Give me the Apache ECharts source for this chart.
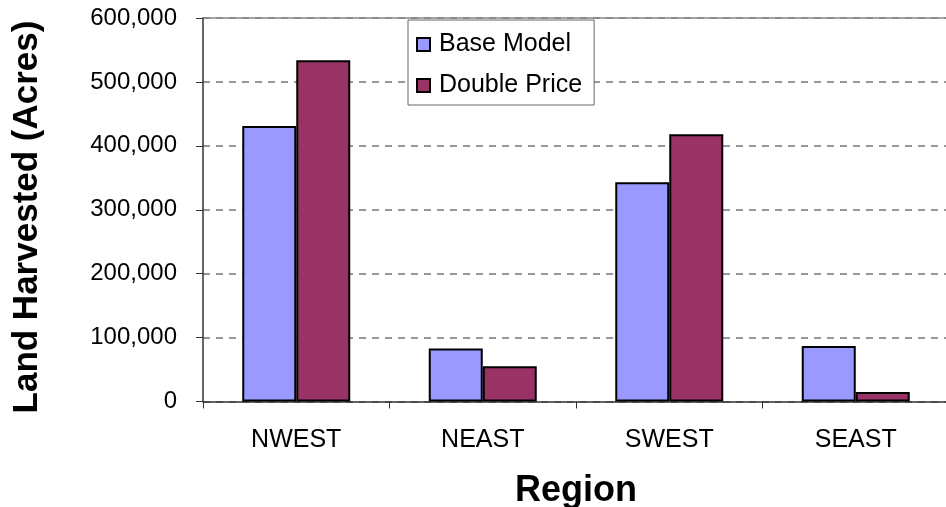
<!DOCTYPE html>
<html><head><meta charset="utf-8">
<script src="https://cdn.jsdelivr.net/npm/echarts@6/dist/echarts.min.js"></script>
<style>html,body{margin:0;padding:0;background:#fff}#c{width:946px;height:507px}</style>
</head><body><div id="c"></div>
<script>
const categories = ['NWEST', 'NEAST', 'SWEST', 'SEAST'];
const baseModel = [431000, 83000, 343000, 87000];
const doublePrice = [534000, 55000, 418000, 15000];
const yTicks = [0, 100000, 200000, 300000, 400000, 500000, 600000];
const yTitle = 'Land Harvested (Acres)';
const xTitle = 'Region';

const chart = echarts.init(document.getElementById('c'));
const font = '"Liberation Sans", Arial, sans-serif';
chart.setOption({
  animation: false,
  textStyle: { fontFamily: font },
  grid: { left: 203, right: -3, top: 18, bottom: 105.5, containLabel: false, outerBoundsMode: 'none' },
  graphic: [{
    type: 'text', x: 27, y: 217, rotation: Math.PI / 2,
    style: { text: yTitle, fontFamily: font, fontSize: 35, fontWeight: 'bold', fill: '#000',
      align: 'center', verticalAlign: 'middle' }
  }],
  legend: {
    orient: 'vertical', left: 408, top: 20,
    padding: [12, 12, 7, 8],
    borderColor: '#666', borderWidth: 1, backgroundColor: '#fff',
    itemWidth: 13, itemHeight: 13, itemGap: 16,
    icon: 'rect',
    textStyle: { fontFamily: font, fontSize: 25, color: '#000', padding: [0, 0, 0, 4] },
    data: ['Base Model', 'Double Price']
  },
  xAxis: [{
    type: 'category', data: categories,
    name: xTitle, nameLocation: 'middle', nameGap: 72,
    nameTextStyle: { fontFamily: font, fontSize: 36, fontWeight: 'bold', color: '#000' },
    axisLine: { lineStyle: { color: '#333', width: 1.5 } },
    axisTick: { show: true, length: 7, lineStyle: { color: '#333', width: 1 } },
    axisLabel: { fontFamily: font, fontSize: 25, color: '#000', margin: 26 }
  }, {
    type: 'category', data: categories, position: 'top',
    axisLine: { show: true, lineStyle: { color: '#888', width: 1.5 } },
    axisTick: { show: false }, axisLabel: { show: false }
  }],
  yAxis: {
    type: 'value', min: 0, max: 600000, interval: 100000,
    axisLine: { show: true, lineStyle: { color: '#333', width: 1.5 } },
    axisTick: { show: true, length: 7, lineStyle: { color: '#333', width: 1 } },
    axisLabel: { fontFamily: font, fontSize: 24, color: '#000', margin: 26,
      formatter: v => yTicks.includes(v) ? v.toLocaleString('en-US') : '' },
    splitLine: { show: true, lineStyle: { color: '#777', type: [7, 6], width: 1.5 } }
  },
  series: [{
    name: 'Base Model', type: 'bar', data: baseModel, barWidth: 54, barGap: '0%',
    itemStyle: { color: '#9999FF', borderColor: '#000', borderWidth: 2 }
  }, {
    name: 'Double Price', type: 'bar', data: doublePrice, barWidth: 54, barGap: '0%',
    itemStyle: { color: '#993366', borderColor: '#000', borderWidth: 2 }
  }]
});
</script></body></html>
